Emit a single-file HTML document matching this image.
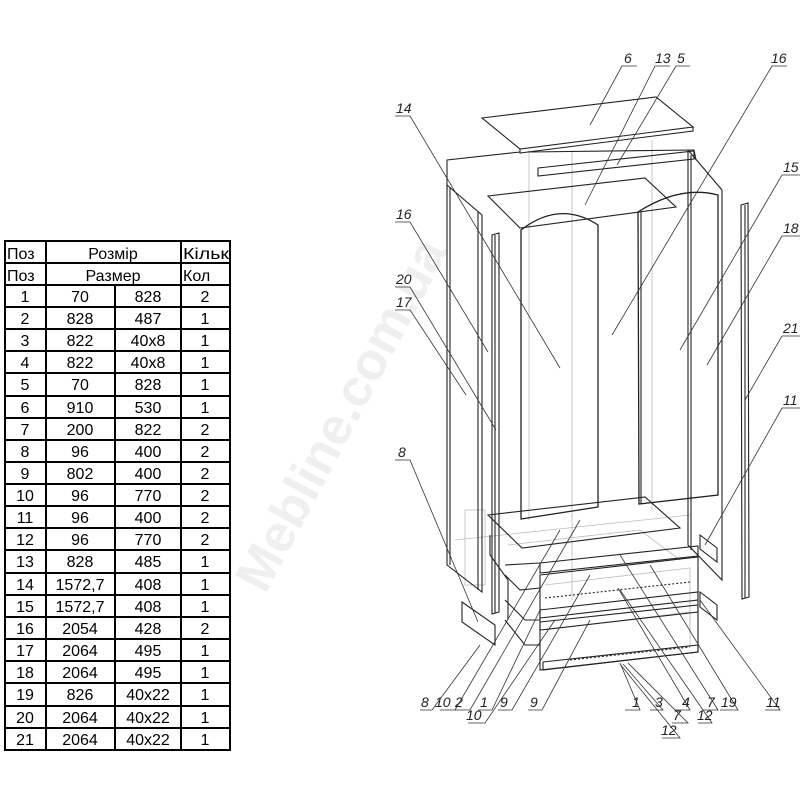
<!DOCTYPE html>
<html><head><meta charset="utf-8"><style>
html,body{margin:0;padding:0;background:#fff;}
svg{display:block}
.t{font-family:"Liberation Sans",sans-serif;font-size:16px;fill:#000}
.l{font-family:"Liberation Sans",sans-serif;font-size:14px;font-style:italic;fill:#222}
</style></head><body>
<svg width="800" height="800" viewBox="0 0 800 800" xmlns="http://www.w3.org/2000/svg">
<defs><clipPath id="c4"><rect x="181" y="241" width="48" height="44"/></clipPath></defs>
<!-- watermark -->
<text x="0" y="0" transform="translate(265,595) rotate(-62)" font-family="Liberation Sans,sans-serif" font-size="52" font-weight="bold" fill="#efefef">Mebline.com.ua</text>

<!-- table -->
<g stroke="#000" stroke-width="2" fill="none">
<rect x="5" y="241" width="225" height="509"/>
<line x1="46" y1="241" x2="46" y2="750"/>
<line x1="181" y1="241" x2="181" y2="750"/>
<line x1="115" y1="285" x2="115" y2="750"/>
<line x1="5" y1="263" x2="230" y2="263"/><line x1="5" y1="285" x2="230" y2="285"/>
<line x1="5" y1="307" x2="230" y2="307"/><line x1="5" y1="329" x2="230" y2="329"/>
<line x1="5" y1="351" x2="230" y2="351"/><line x1="5" y1="373" x2="230" y2="373"/>
<line x1="5" y1="396" x2="230" y2="396"/><line x1="5" y1="418" x2="230" y2="418"/>
<line x1="5" y1="440" x2="230" y2="440"/><line x1="5" y1="462" x2="230" y2="462"/>
<line x1="5" y1="484" x2="230" y2="484"/><line x1="5" y1="506" x2="230" y2="506"/>
<line x1="5" y1="528" x2="230" y2="528"/><line x1="5" y1="550" x2="230" y2="550"/>
<line x1="5" y1="573" x2="230" y2="573"/><line x1="5" y1="595" x2="230" y2="595"/>
<line x1="5" y1="617" x2="230" y2="617"/><line x1="5" y1="639" x2="230" y2="639"/>
<line x1="5" y1="661" x2="230" y2="661"/><line x1="5" y1="683" x2="230" y2="683"/>
<line x1="5" y1="706" x2="230" y2="706"/><line x1="5" y1="728" x2="230" y2="728"/>
</g>
<g class="t">
<text x="7" y="259">Поз</text><text x="113" y="259" text-anchor="middle">Розмір</text>
<text x="7" y="281">Поз</text><text x="113" y="281" text-anchor="middle">Размер</text><text x="183" y="281">Кол</text>
<text x="183" y="259" clip-path="url(#c4)" textLength="46" lengthAdjust="spacingAndGlyphs">Кільк</text>
</g>
<g class="t" text-anchor="middle">
<text x="25" y="302">1</text><text x="80" y="302">70</text><text x="148" y="302">828</text><text x="205" y="302">2</text>
<text x="25" y="324">2</text><text x="80" y="324">828</text><text x="148" y="324">487</text><text x="205" y="324">1</text>
<text x="25" y="346">3</text><text x="80" y="346">822</text><text x="148" y="346">40x8</text><text x="205" y="346">1</text>
<text x="25" y="368">4</text><text x="80" y="368">822</text><text x="148" y="368">40x8</text><text x="205" y="368">1</text>
<text x="25" y="390">5</text><text x="80" y="390">70</text><text x="148" y="390">828</text><text x="205" y="390">1</text>
<text x="25" y="413">6</text><text x="80" y="413">910</text><text x="148" y="413">530</text><text x="205" y="413">1</text>
<text x="25" y="435">7</text><text x="80" y="435">200</text><text x="148" y="435">822</text><text x="205" y="435">2</text>
<text x="25" y="457">8</text><text x="80" y="457">96</text><text x="148" y="457">400</text><text x="205" y="457">2</text>
<text x="25" y="479">9</text><text x="80" y="479">802</text><text x="148" y="479">400</text><text x="205" y="479">2</text>
<text x="25" y="501">10</text><text x="80" y="501">96</text><text x="148" y="501">770</text><text x="205" y="501">2</text>
<text x="25" y="523">11</text><text x="80" y="523">96</text><text x="148" y="523">400</text><text x="205" y="523">2</text>
<text x="25" y="545">12</text><text x="80" y="545">96</text><text x="148" y="545">770</text><text x="205" y="545">2</text>
<text x="25" y="567">13</text><text x="80" y="567">828</text><text x="148" y="567">485</text><text x="205" y="567">1</text>
<text x="25" y="590">14</text><text x="80" y="590">1572,7</text><text x="148" y="590">408</text><text x="205" y="590">1</text>
<text x="25" y="612">15</text><text x="80" y="612">1572,7</text><text x="148" y="612">408</text><text x="205" y="612">1</text>
<text x="25" y="634">16</text><text x="80" y="634">2054</text><text x="148" y="634">428</text><text x="205" y="634">2</text>
<text x="25" y="656">17</text><text x="80" y="656">2064</text><text x="148" y="656">495</text><text x="205" y="656">1</text>
<text x="25" y="678">18</text><text x="80" y="678">2064</text><text x="148" y="678">495</text><text x="205" y="678">1</text>
<text x="25" y="700">19</text><text x="80" y="700">826</text><text x="148" y="700">40x22</text><text x="205" y="700">1</text>
<text x="25" y="723">20</text><text x="80" y="723">2064</text><text x="148" y="723">40x22</text><text x="205" y="723">1</text>
<text x="25" y="745">21</text><text x="80" y="745">2064</text><text x="148" y="745">40x22</text><text x="205" y="745">1</text>
</g>

<!-- drawing -->
<g fill="none" stroke="#bbb" stroke-width="0.8">
<line x1="529" y1="150" x2="529" y2="520"/><line x1="572" y1="150" x2="572" y2="600"/><line x1="652" y1="140" x2="652" y2="510"/>
<line x1="455" y1="540" x2="690" y2="515"/>
<rect x="465" y="510" width="20" height="75"/>
<polyline points="508,545 640,530 680,560"/>
<polyline points="545,585 690,568 690,630"/>
<polyline points="545,630 690,612 690,645"/>
</g>
<g fill="none" stroke="#222" stroke-width="1.1">
<polygon points="482,118 656,97 693,127 520,149"/>
<polyline points="520,149 520,153 693,131 693,127"/>
<polyline points="447,190 447,160 520,152"/>
<polyline points="528,152 694,150"/>
<line x1="694" y1="150" x2="696" y2="160"/>
<polygon points="538,168 694,151 694,159 538,176"/>
<polygon points="488,196 645,178 676,207 520,228"/>
<polyline points="447,185 482,215 482,592 447,565 447,185"/>
<line x1="450" y1="187" x2="450" y2="565"/>
<polyline points="478,212 478,590"/>
<polygon points="492,235 499,233 499,612 492,614"/>
<line x1="495" y1="235" x2="495" y2="613"/>
<path d="M521,230 Q560,200 598,225 L598,507 L521,519 Z" stroke-width="1.3"/>
<path d="M638,212 Q680,185 718,195 L718,495 L639,504 Z" stroke-width="1.3"/>
<line x1="641" y1="212" x2="641" y2="504"/>
<polyline points="688,150 722,190 722,580 688,545 688,150"/>
<line x1="691" y1="155" x2="691" y2="550"/>
<polygon points="741,205 748,203 749,597 742,599"/>
<line x1="745" y1="205" x2="745" y2="598"/>
<polygon points="488,515 645,497 680,528 522,548"/>
<polyline points="490,535 490,555 508,580 508,620"/>
<polygon points="462,602 495,625 495,645 462,622"/>
<polygon points="700,535 717,548 717,562 700,549"/>
<polygon points="700,592 717,605 717,620 700,607"/>
<polygon points="540,563 698,546 698,556 540,573"/>
<polygon points="540,575 698,557 698,612 540,630"/>
<polygon points="540,610 698,592 698,600 540,618"/>
<polygon points="540,622 698,605 698,652 540,670"/>
<polygon points="543,662 698,645 698,652 543,670"/>
<polyline points="505,565 540,563"/><polyline points="505,575 520,590 540,588"/>
<polyline points="505,600 525,620 540,620"/><polyline points="505,620 525,645 540,645"/>
<line x1="545" y1="598" x2="690" y2="582" stroke-dasharray="2 2"/>
<line x1="570" y1="660" x2="690" y2="647" stroke-dasharray="2 2"/>
</g>

<g stroke="#333" stroke-width="0.8" fill="none">
<polyline points="637,66 622,66 590,125"/>
<polyline points="670,66 655,66 585,205"/>
<polyline points="690,66 676,66 617,165"/>
<polyline points="787,66 772,66 612,335"/>
<polyline points="395,116 410,116 560,368"/>
<polyline points="395,222 410,222 488,352"/>
<polyline points="395,287 410,287 496,430"/>
<polyline points="395,310 410,310 466,395"/>
<polyline points="800,175 782,175 680,350"/>
<polyline points="800,236 782,236 707,365"/>
<polyline points="800,336 782,336 745,400"/>
<polyline points="800,408 782,408 705,545"/>
<polyline points="395,460 410,460 478,622"/>
<polyline points="420,710 432,710 480,645"/>
<polyline points="440,710 455,710 560,530"/>
<polyline points="455,710 470,710 580,520"/>
<polyline points="478,710 492,710 540,610"/>
<polyline points="498,710 512,710 590,575"/>
<polyline points="528,710 542,710 590,620"/>
<polyline points="468,723 485,723 555,620"/>
<polyline points="625,710 640,710 620,663"/>
<polyline points="650,710 663,710 623,664"/>
<polyline points="675,710 690,710 618,588"/>
<polyline points="703,710 718,710 620,555"/>
<polyline points="720,710 738,710 650,565"/>
<polyline points="765,710 780,710 700,600"/>
<polyline points="672,723 688,723 628,663"/>
<polyline points="698,723 712,723 620,590"/>
<polyline points="662,738 680,738 620,664"/>
</g>
<g class="l">
<text x="624" y="63">6</text><text x="655" y="63">13</text><text x="677" y="63">5</text><text x="771" y="63">16</text>
<text x="396" y="113">14</text><text x="396" y="219">16</text><text x="396" y="284">20</text><text x="396" y="307">17</text>
<text x="783" y="172">15</text><text x="783" y="233">18</text><text x="783" y="333">21</text><text x="783" y="405">11</text>
<text x="398" y="457">8</text>
<text x="421" y="707">8</text><text x="435" y="707">10</text><text x="455" y="707">2</text><text x="480" y="707">1</text>
<text x="500" y="707">9</text><text x="530" y="707">9</text>
<text x="466" y="720">10</text>
<text x="632" y="707">1</text><text x="655" y="707">3</text><text x="682" y="707">4</text><text x="707" y="707">7</text><text x="721" y="707">19</text><text x="766" y="707">11</text>
<text x="673" y="720">7</text><text x="697" y="720">12</text><text x="661" y="735">12</text>
</g>
</svg>
</body></html>
